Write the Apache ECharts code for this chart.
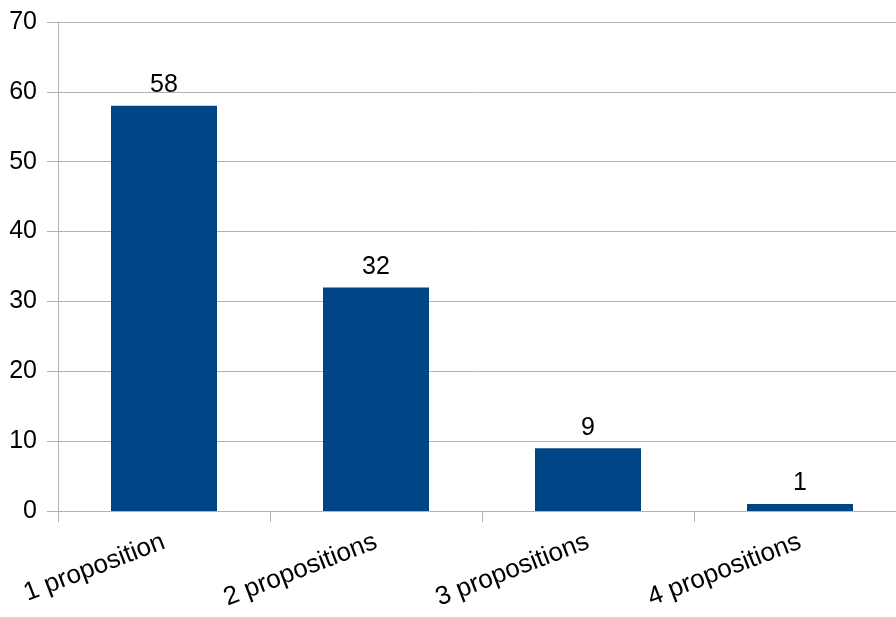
<!DOCTYPE html>
<html>
<head>
<meta charset="utf-8">
<script src="https://cdn.jsdelivr.net/npm/echarts@6/dist/echarts.min.js"></script>
<style>
  html, body { margin: 0; padding: 0; background: #fff; }
  #chart { width: 896px; height: 617px; }
</style>
</head>
<body>
<div id="chart"></div>
<script>
// Number of answers by how many propositions they contain
const categories = ['1 proposition', '2 propositions', '3 propositions', '4 propositions'];
const counts = [58, 32, 9, 1];
const yTicks = { min: 0, max: 70, interval: 10 };

const FONT = '"Liberation Sans", Arial, sans-serif';
const GRID_GREY = '#b3b3b3';

const chart = echarts.init(document.getElementById('chart'), null, { renderer: 'canvas' });
chart.setOption({
  animation: false,
  backgroundColor: '#ffffff',
  // the plot area runs past the right edge of the canvas
  grid: { left: 58, top: 22, bottom: 106, width: 848, outerBoundsMode: 'none', containLabel: false },
  xAxis: {
    type: 'category',
    data: categories,
    boundaryGap: true,
    axisLine: { show: true, lineStyle: { color: GRID_GREY, width: 1 } },
    axisTick: { show: true, length: 11, alignWithLabel: false, lineStyle: { color: GRID_GREY } },
    axisLabel: {
      rotate: 21,
      margin: 30,
      fontFamily: FONT,
      fontSize: 26,
      color: '#000',
      interval: 0
    },
    splitLine: { show: false }
  },
  yAxis: {
    type: 'value',
    min: yTicks.min,
    max: yTicks.max,
    interval: yTicks.interval,
    axisLine: { show: true, lineStyle: { color: GRID_GREY, width: 1 } },
    axisTick: { show: true, length: 11, lineStyle: { color: GRID_GREY } },
    axisLabel: { margin: 21, fontFamily: FONT, fontSize: 25, color: '#000' },
    splitLine: { show: true, lineStyle: { color: GRID_GREY, width: 1 } }
  },
  series: [{
    type: 'bar',
    data: counts,
    barWidth: '50%',
    itemStyle: { color: '#004586' },
    label: {
      show: true,
      position: 'top',
      distance: 8,
      fontFamily: FONT,
      fontSize: 25,
      color: '#000'
    }
  }]
});
</script>
</body>
</html>
